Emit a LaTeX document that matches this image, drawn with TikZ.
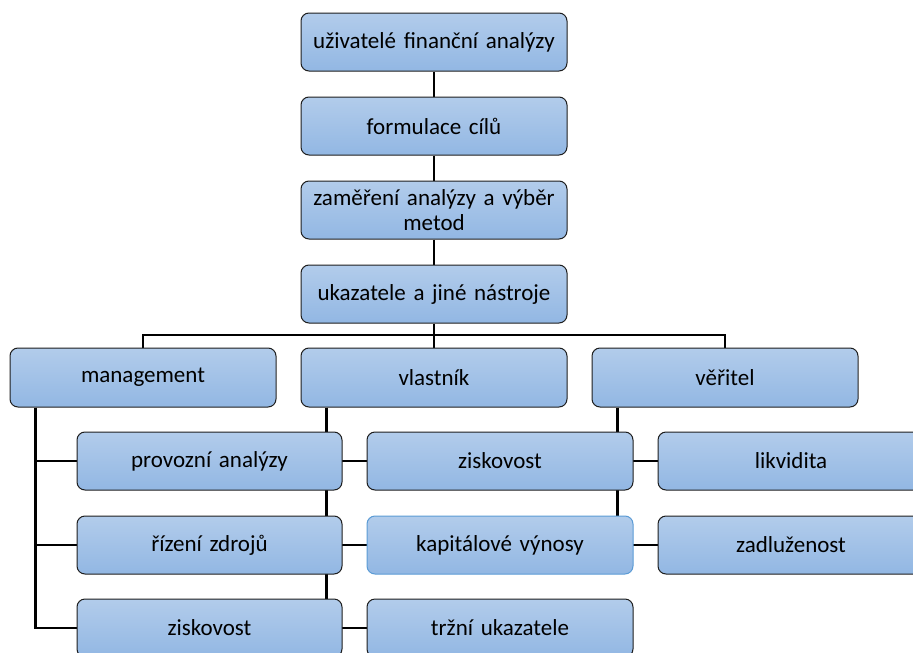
\documentclass[tikz,border=0pt]{standalone}
\usepackage{fontspec}
\setmainfont{Carlito}
\usetikzlibrary{backgrounds}
\definecolor{boxtop}{RGB}{178,204,235}
\definecolor{boxbot}{RGB}{146,183,227}
\definecolor{edgeblue}{RGB}{91,155,213}
\definecolor{edgedark}{RGB}{30,30,30}
\tikzset{
  box/.style={rectangle, rounded corners=8pt, draw=edgedark, line width=1pt,
    top color=boxtop, bottom color=boxbot, minimum width=266pt, minimum height=58pt,
    inner sep=2pt, align=center, text width=258pt,
    font=\fontsize{23}{25}\selectfont, text=black},
  bluebox/.style={box, draw=edgeblue},
  conn/.style={line width=2.3pt, draw=black}
}
\begin{document}
\begin{tikzpicture}[x=1pt,y=-1pt]
\useasboundingbox (0,0) rectangle (913,653);
\clip (0,0) rectangle (913,653);
% top chain
\node[box] (u1) at (434,42) {uživatelé finanční analýzy};
\node[box] (u2) at (434,126) {formulace cílů};
\node[box] (u3) at (434,210) {zaměření analýzy a výběr\\metod};
\node[box] (u4) at (434,294) {ukazatele a jiné nástroje};
% level 2
\node[box, minimum height=59pt] (mg) at (143,377.5) {management};
\node[box, minimum height=59pt] (vl) at (434,377.5) {vlastník};
\node[box, minimum height=59pt] (ve) at (725,377.5) {věřitel};
% management children
\node[box, minimum width=265pt] (l1) at (209.5,461) {provozní analýzy};
\node[box, minimum width=265pt] (l2) at (209.5,545) {řízení zdrojů};
\node[box, minimum width=265pt] (l3) at (209.5,628) {ziskovost};
% vlastnik children
\node[box] (m1) at (500,461) {ziskovost};
\node[bluebox] (m2) at (500,545) {kapitálové výnosy};
\node[box] (m3) at (500,628) {tržní ukazatele};
% veritel children
\node[box] (r1) at (791,461) {likvidita};
\node[box] (r2) at (791,545) {zadluženost};
\coordinate (bar) at (434,335);
\begin{scope}[on background layer]
\draw[conn] (u1) -- (u2);
\draw[conn] (u2) -- (u3);
\draw[conn] (u3) -- (u4);
\draw[conn] (u4.south) -- (bar);
\draw[conn] (mg.north) |- (bar) -| (ve.north);
\draw[conn] (bar) -- (vl.north);
\draw[conn] ([xshift=26pt]mg.south west) |- (l1.west);
\draw[conn] ([xshift=26pt]mg.south west) |- (l2.west);
\draw[conn] ([xshift=26pt]mg.south west) |- (l3.west);
\draw[conn] ([xshift=26pt]vl.south west) |- (m1.west);
\draw[conn] ([xshift=26pt]vl.south west) |- (m2.west);
\draw[conn] ([xshift=26pt]vl.south west) |- (m3.west);
\draw[conn] ([xshift=26pt]ve.south west) |- (r1.west);
\draw[conn] ([xshift=26pt]ve.south west) |- (r2.west);
\end{scope}
\end{tikzpicture}
\end{document}
